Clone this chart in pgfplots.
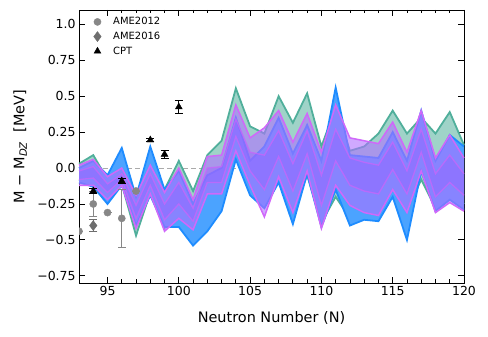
\documentclass[border=0pt]{standalone}
\usepackage{fontspec}
\setmainfont{DejaVu Sans}
\usepackage{pgfplots}
\pgfplotsset{compat=1.18}
\usepgfplotslibrary{fillbetween}
\usepackage{pgfplotstable}

\definecolor{tealc}{RGB}{80,175,155}
\definecolor{tealf}{RGB}{159,211,200}
\definecolor{bluec}{RGB}{30,140,255}
\definecolor{bluef}{RGB}{75,163,255}
\definecolor{purpf}{RGB}{176,112,255}
\definecolor{purpi}{RGB}{150,100,255}
\definecolor{magc}{RGB}{208,104,250}
\definecolor{grayc}{RGB}{135,135,135}
\definecolor{grayd}{RGB}{110,110,110}
\definecolor{zeroc}{RGB}{170,170,170}

% bands: teal (TT/TB), blue (BT/BB), purple outer (PT/PB), purple inner (IT/IB)
\pgfplotstableread{
N   TT     TB     BT     BB     PT     PB     IT     IB
93  0.03  -0.08   0.00  -0.10   0.02  -0.12  -0.02  -0.08
94  0.09  -0.12   0.05  -0.13   0.06  -0.12   0.01  -0.07
95 -0.08  -0.22  -0.05  -0.25  -0.06  -0.22  -0.11  -0.17
96  0.00  -0.11   0.14  -0.12   0.00  -0.12  -0.04  -0.08
97 -0.18  -0.47  -0.20  -0.40  -0.19  -0.42  -0.26  -0.35
98  0.00  -0.17   0.15  -0.19   0.02  -0.18  -0.04  -0.12
99 -0.15  -0.42  -0.15  -0.41  -0.17  -0.44  -0.25  -0.36
100 0.05  -0.17  -0.02  -0.41   0.00  -0.35  -0.10  -0.25
101 -0.16 -0.40  -0.25  -0.54  -0.22  -0.43  -0.28  -0.37
102 0.09  -0.20  -0.05  -0.44   0.08  -0.18   0.00  -0.10
103 0.19  -0.10   0.00  -0.30   0.09  -0.18   0.01  -0.10
104 0.555  0.10   0.35   0.06   0.44   0.12   0.34   0.22
105 0.29  -0.12   0.05  -0.19   0.21  -0.12   0.11  -0.02
106 0.24  -0.20   0.15  -0.28   0.28  -0.34   0.09  -0.15
107 0.50  -0.08   0.35  -0.10   0.40  -0.06   0.26   0.08
108 0.315 -0.30   0.10  -0.39   0.18  -0.31   0.03  -0.16
109 0.52  -0.05   0.30  -0.04   0.38  -0.02   0.26   0.10
110 0.15  -0.38   0.05  -0.41   0.11  -0.42  -0.05  -0.26
111 0.42  -0.20   0.56  -0.15   0.44  -0.12   0.27   0.05
112 0.12  -0.35   0.09  -0.40   0.21  -0.26   0.07  -0.12
113 0.15  -0.32   0.08  -0.36   0.19  -0.31   0.04  -0.16
114 0.24  -0.33   0.07  -0.37   0.17  -0.33   0.02  -0.18
115 0.40  -0.17   0.25  -0.20   0.32  -0.15   0.18  -0.01
116 0.24  -0.30   0.05  -0.50   0.11  -0.31  -0.02  -0.18
117 0.35  -0.08   0.40  -0.02   0.40  -0.02   0.27   0.11
118 0.24  -0.28   0.05  -0.30   0.07  -0.31  -0.04  -0.20
119 0.39  -0.18   0.23  -0.22   0.23  -0.24   0.09  -0.10
120 0.16  -0.25   0.15  -0.29   0.07  -0.30  -0.04  -0.19
}\bands

\begin{document}
\begin{tikzpicture}
\begin{axis}[
  at={(0,0)}, anchor=south west,
  scale only axis,
  width=385bp, height=273bp,
  xmin=93, xmax=120,
  ymin=-0.8, ymax=1.1,
  xtick={95,100,...,120},
  minor x tick num=4,
  ytick={-0.75,-0.5,-0.25,0,0.25,0.5,0.75,1.0},
  yticklabels={−0.75,−0.5,−0.25,0.0,0.25,0.5,0.75,1.0},
  tick align=inside,
  major tick length=6bp,
  minor tick length=3.5bp,
  every tick/.style={black, line width=0.8pt},
  axis line style={line width=0.9pt},
  /pgf/number format/assume math mode=true,
  tick label style={font=\fontsize{12.5}{14}\selectfont},
  xlabel={Neutron Number (N)},
  ylabel={M − M\textsubscript{\textit{DZ}}~~[MeV]},
  label style={font=\fontsize{14.5}{17}\selectfont},
  xlabel style={at={(axis description cs:0.5,-0.128)}, anchor=center},
  ylabel style={at={(axis description cs:-0.153,0.5)}, anchor=center},
  clip marker paths=true,
  set layers,
  band/.style={forget plot, on layer=pre main},
  legend style={draw=none, fill=none, at={(0.03,0.988)}, anchor=north west,
    font=\fontsize{10}{12}\selectfont, row sep=1.8bp,
    /tikz/every odd column/.append style={column sep=10bp}},
  legend cell align=left,
]
\addplot[band, zeroc, dash pattern=on 5bp off 3bp, line width=1pt] coordinates {(93,0) (120,0)};

% teal band
\addplot[band, draw=none, name path=tt] table[x=N, y=TT] {\bands};
\addplot[band, draw=none, name path=tb] table[x=N, y=TB] {\bands};
\addplot[band, fill=tealf, draw=none] fill between[of=tt and tb];
\addplot[band, tealc, line width=1.8pt] table[x=N, y=TT] {\bands};
\addplot[band, tealc, line width=1.8pt] table[x=N, y=TB] {\bands};

% blue band
\addplot[band, draw=none, name path=bt] table[x=N, y=BT] {\bands};
\addplot[band, draw=none, name path=bb] table[x=N, y=BB] {\bands};
\addplot[band, fill=bluef, draw=none] fill between[of=bt and bb];
\addplot[band, bluec, line width=1.8pt] table[x=N, y=BT] {\bands};
\addplot[band, bluec, line width=1.8pt] table[x=N, y=BB] {\bands};

% purple bands
\addplot[band, draw=none, name path=pt] table[x=N, y=PT] {\bands};
\addplot[band, draw=none, name path=pb] table[x=N, y=PB] {\bands};
\addplot[band, fill=purpf, fill opacity=0.6, draw=none] fill between[of=pt and pb];
\addplot[band, magc, line width=1.5pt] table[x=N, y=PT] {\bands};
\addplot[band, magc, line width=1.5pt] table[x=N, y=PB] {\bands};
\addplot[band, draw=none, name path=it] table[x=N, y=IT] {\bands};
\addplot[band, draw=none, name path=ib] table[x=N, y=IB] {\bands};
\addplot[band, fill=purpi, fill opacity=0.45, draw=none] fill between[of=it and ib];
\addplot[band, magc!80!purpi, line width=1.3pt, opacity=0.8] table[x=N, y=IT] {\bands};
\addplot[band, magc!80!purpi, line width=1.3pt, opacity=0.8] table[x=N, y=IB] {\bands};

% data
\addplot[only marks, mark=*, mark size=3.6bp, grayc, mark options={draw=grayc, fill=grayc},
  error bars/.cd, y dir=both, y explicit, error mark options={rotate=90, mark size=4bp, line width=1pt},
  error bar style={line width=1pt}]
  coordinates {(93,-0.44) +- (0,0) (94,-0.25) +- (0,0.09) (95,-0.31) +- (0,0) (96,-0.35) +- (0,0.20) (97,-0.16) +- (0,0)};
\addlegendentry{AME2012}
\addplot[only marks, mark=diamond*, mark size=5bp, grayd, mark options={draw=grayd, fill=grayd},
  error bars/.cd, y dir=both, y explicit, error mark options={rotate=90, mark size=4bp, line width=1pt},
  error bar style={line width=1pt}]
  coordinates {(94,-0.40) +- (0,0.045)};
\addlegendentry{AME2016}
\addplot[only marks, mark=triangle*, mark size=4bp, black, mark options={fill=black},
  error bars/.cd, y dir=both, y explicit, error mark options={rotate=90, mark size=4bp, line width=1pt},
  error bar style={line width=1pt}]
  coordinates {(94,-0.16) +- (0,0.015) (96,-0.09) +- (0,0.015) (98,0.195) +- (0,0.01) (99,0.095) +- (0,0.03) (100,0.425) +- (0,0.045)};
\addlegendentry{CPT}
\end{axis}
\pgfresetboundingbox
\path[use as bounding box] (-79bp,-54bp) rectangle (409bp,283bp);
\end{tikzpicture}
\end{document}
